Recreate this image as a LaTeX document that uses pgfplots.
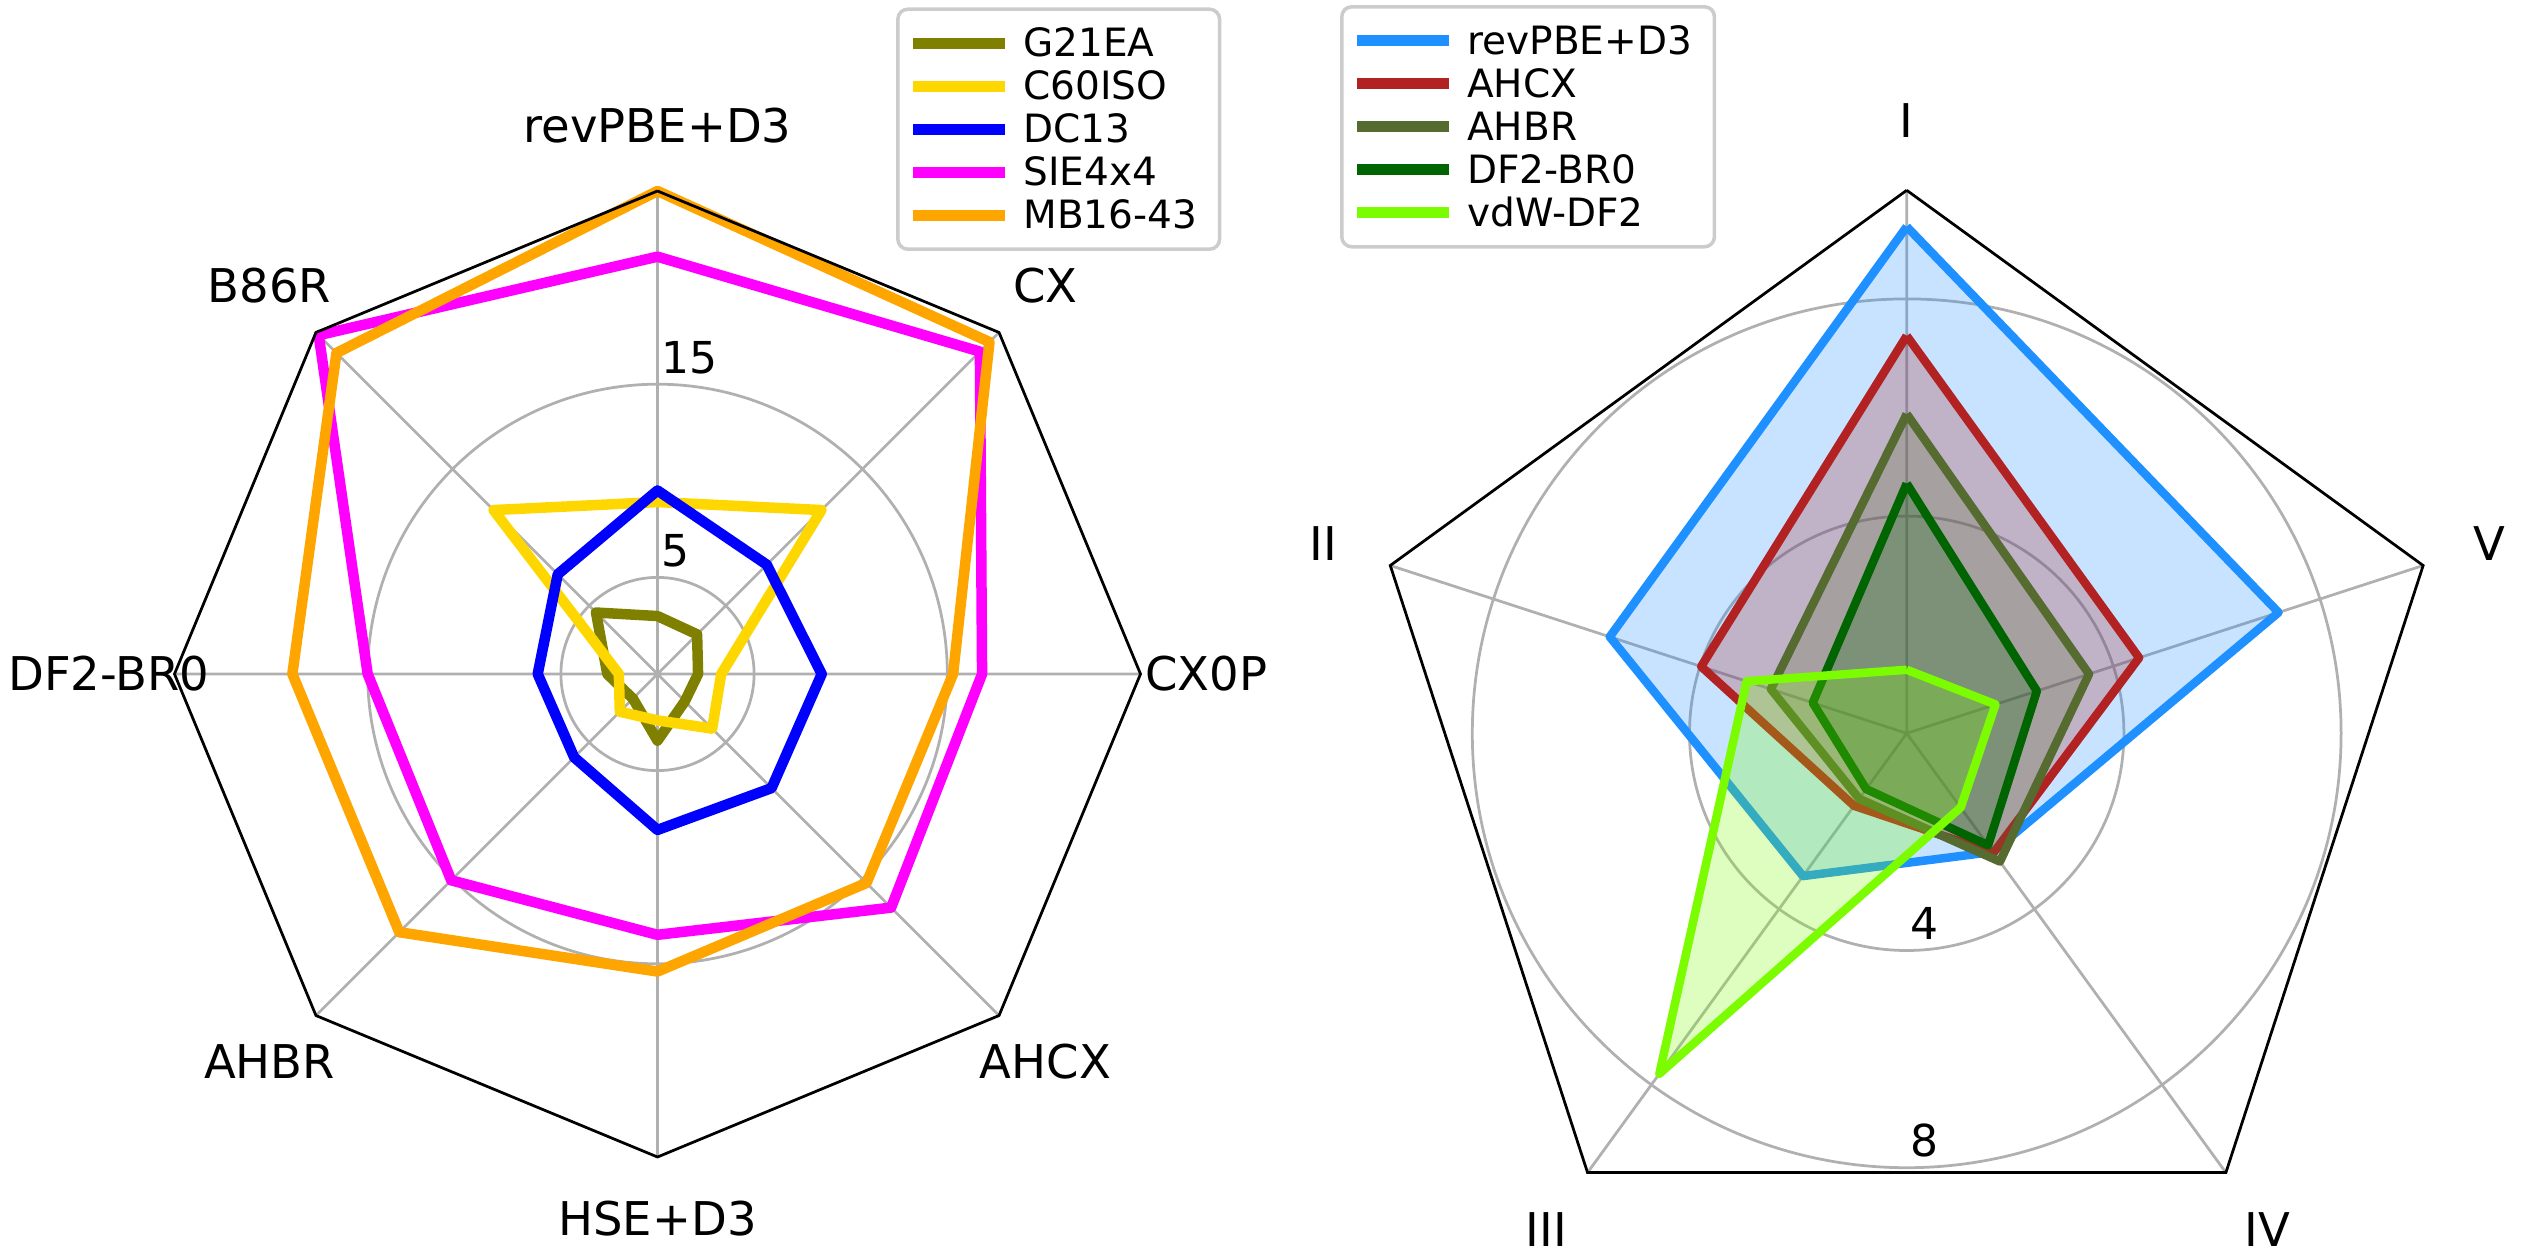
\documentclass[border=0pt]{standalone}
\usepackage{fontspec}
\setmainfont{DejaVu Sans}
\usepackage{pgfplots}
\pgfplotsset{compat=1.18}
\usepgfplotslibrary{polar}
\definecolor{cOlive}{HTML}{808000}
\definecolor{cGold}{HTML}{FFD700}
\definecolor{cBlue}{HTML}{0000FF}
\definecolor{cMag}{HTML}{FF00FF}
\definecolor{cOrange}{HTML}{FFA500}
\definecolor{cDodger}{HTML}{1E90FF}
\definecolor{cFire}{HTML}{B22222}
\definecolor{cDOG}{HTML}{556B2F}
\definecolor{cDG}{HTML}{006400}
\definecolor{cLawn}{HTML}{7CFC00}
\definecolor{cGrid}{HTML}{B0B0B0}
\tikzset{
  lbl/.style={font=\fontsize{9.3}{11}\selectfont, anchor=center, inner sep=0pt},
  rlbl/.style={font=\fontsize{8.8}{10}\selectfont, anchor=south west, inner xsep=0.6pt, inner ysep=1.9pt},
}
\begin{document}
\begin{tikzpicture}[x=1pt,y=1pt]
\useasboundingbox (0,0) rectangle (505,251.6);
\pgfplotsset{
  radar/.style={
    scale only axis,
    xmin=0, xmax=360, ymin=0,
    xticklabels={}, yticklabels={},
    xmajorgrids, ymajorgrids,
    major grid style={color=cGrid, line width=0.55pt},
    axis line style={draw=none},
    major tick length=0pt,
    clip=false,
    legend image code/.code={\draw[#1, line width=2.2pt, line cap=butt, fill=none] (0pt,0pt) -- (18.4pt,0pt);},
    legend style={anchor=north west, draw=black!20, line width=0.7pt, rounded corners=2pt,
      font=\fontsize{7.8}{9}\selectfont, inner xsep=2pt, inner ysep=2.5pt, row sep=0pt,
      cells={anchor=west},
      nodes={inner ysep=1.3pt, inner xsep=2.5pt, text height=5.7pt, text depth=0.3pt}},
  },
}
% ---------------- left chart ----------------
\begin{polaraxis}[radar,
  at={(131.5pt,116.8pt)}, anchor=center,
  width=193.2pt, height=193.2pt,
  ymax=25,
  xtick={0,45,90,135,180,225,270,315}, ytick={5,15},
  legend style={at={(0.747,1.190)}},
]
\addplot[cOlive, line width=2.1pt, line join=round, line cap=round] coordinates {(90,3.0)(45,2.9)(0,2.1)(315,2.0)(270,3.45)(225,1.8)(180,2.6)(135,4.5)(90,3.0)};
\addlegendentry{G21EA}
\addplot[cGold, line width=2.1pt, line join=round, line cap=round] coordinates {(90,8.9)(45,12.0)(0,3.3)(315,4.0)(270,2.4)(225,2.76)(180,2.0)(135,12.0)(90,8.9)};
\addlegendentry{C60ISO}
\addplot[cBlue, line width=2.1pt, line join=round, line cap=round] coordinates {(90,9.5)(45,8.0)(0,8.5)(315,8.35)(270,8.07)(225,6.1)(180,6.2)(135,7.3)(90,9.5)};
\addlegendentry{DC13}
\addplot[cMag, line width=2.1pt, line join=round, line cap=round] coordinates {(90,21.6)(45,23.6)(0,16.8)(315,17.1)(270,13.5)(225,15.1)(180,15.0)(135,24.8)(90,21.6)};
\addlegendentry{SIE4x4}
\addplot[cOrange, line width=2.1pt, line join=round, line cap=round] coordinates {(90,25)(45,24.3)(0,15.3)(315,15.3)(270,15.4)(225,18.9)(180,18.9)(135,23.5)(90,25)};
\addlegendentry{MB16-43}
\addplot[black, line width=0.55pt, forget plot] coordinates {(90,25)(45,25)(0,25)(315,25)(270,25)(225,25)(180,25)(135,25)(90,25)};
\node[lbl] at (axis cs:90,28.4) {revPBE+D3};
\node[lbl] at (axis cs:45,28.4) {CX};
\node[lbl] at (axis cs:0,28.4) {CX0P};
\node[lbl] at (axis cs:315,28.4) {AHCX};
\node[lbl] at (axis cs:270,28.2) {HSE+D3};
\node[lbl] at (axis cs:225,28.4) {AHBR};
\node[lbl] at (axis cs:180,28.4) {DF2-BR0};
\node[lbl] at (axis cs:135,28.4) {B86R};
\node[rlbl] at (axis cs:90,15) {15};
\node[rlbl] at (axis cs:90,5) {5};
\end{polaraxis}
% ---------------- right chart ----------------
\begin{polaraxis}[radar,
  at={(381.34pt,104.94pt)}, anchor=center,
  width=217.2pt, height=217.2pt,
  ymax=10,
  xtick={18,90,162,234,306}, ytick={4,8},
  legend style={at={(-0.0218,1.1706)}},
]
\addplot[cDodger, line width=1.7pt, line join=round, fill=cDodger, fill opacity=0.25] coordinates {(90,9.33)(162,5.75)(234,3.25)(306,2.7)(18,7.2)(90,9.33)};
\addlegendentry{revPBE+D3}
\addplot[cFire, line width=1.7pt, line join=round, fill=cFire, fill opacity=0.25] coordinates {(90,7.32)(162,3.98)(234,1.65)(306,2.72)(18,4.5)(90,7.32)};
\addlegendentry{AHCX}
\addplot[cDOG, line width=1.7pt, line join=round, fill=cDOG, fill opacity=0.25] coordinates {(90,5.88)(162,2.63)(234,1.49)(306,2.92)(18,3.53)(90,5.88)};
\addlegendentry{AHBR}
\addplot[cDG, line width=1.7pt, line join=round, fill=cDG, fill opacity=0.25] coordinates {(90,4.6)(162,1.82)(234,1.27)(306,2.55)(18,2.52)(90,4.6)};
\addlegendentry{DF2-BR0}
\addplot[cLawn, line width=1.7pt, line join=round, fill=cLawn, fill opacity=0.25] coordinates {(90,1.17)(162,3.1)(234,7.75)(306,1.69)(18,1.72)(90,1.17)};
\addlegendentry{vdW-DF2}
\addplot[black, line width=0.55pt, forget plot] coordinates {(90,10)(162,10)(234,10)(306,10)(18,10)(90,10)};
\node[lbl] at (axis cs:90,11.29) {I};
\node[lbl] at (axis cs:162,11.29) {II};
\node[lbl] at (axis cs:234,11.29) {III};
\node[lbl] at (axis cs:306,11.29) {IV};
\node[lbl] at (axis cs:18,11.29) {V};
\node[rlbl, inner xsep=0.5pt, inner ysep=2pt] at (axis cs:270,4) {4};
\node[rlbl, inner xsep=0.5pt, inner ysep=2pt] at (axis cs:270,8) {8};
\end{polaraxis}
\end{tikzpicture}
\end{document}
